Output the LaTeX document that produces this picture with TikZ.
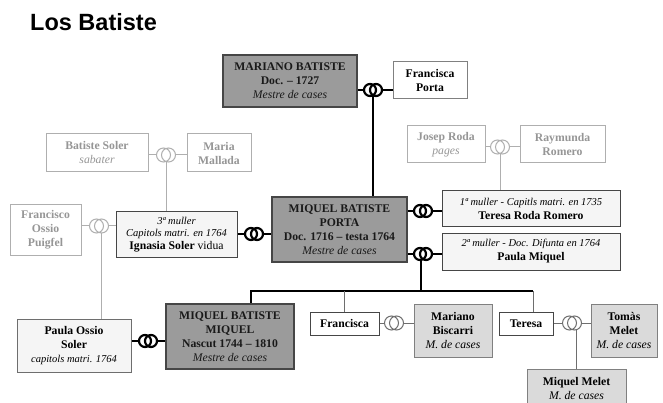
\documentclass[tikz,border=0pt]{standalone}
\usepackage{fontspec}
\setmainfont{Liberation Serif}
\newfontfamily\titlefont{Liberation Sans}
\definecolor{darkfill}{RGB}{155,155,155}
\definecolor{darkborder}{RGB}{70,70,70}
\definecolor{midfill}{RGB}{218,218,218}
\definecolor{palefill}{RGB}{245,245,245}
\definecolor{paleborder}{RGB}{175,175,175}
\definecolor{paletext}{RGB}{150,150,150}
\definecolor{midline}{RGB}{110,110,110}
\newcommand\itl[1]{{\mdseries\itshape #1}}
\newcommand\smit[1]{{\mdseries\itshape\fontsize{10.5}{12.5}\selectfont #1}}
\newcommand\ringthick[1]{%
  \fill[white] ([xshift=-3pt]#1) circle[radius=6pt] ([xshift=3pt]#1) circle[radius=6pt];
  \draw[line width=2.2pt,black] ([xshift=-3pt]#1) circle[radius=6pt] ([xshift=3pt]#1) circle[radius=6pt];}
\newcommand\ringthin[2]{%
  \fill[white] ([xshift=-2.5pt]#1) circle[radius=7pt] ([xshift=2.5pt]#1) circle[radius=7pt];
  \draw[line width=1pt,#2] ([xshift=-2.5pt]#1) circle[radius=7pt] ([xshift=2.5pt]#1) circle[radius=7pt];}
\begin{document}
\begin{tikzpicture}[x=1pt,y=-1pt,
  box/.style={rectangle, align=center, inner sep=1pt,
    font=\fontsize{11.7}{14}\selectfont\bfseries},
  darkbox/.style={box, fill=darkfill, draw=darkborder, line width=1.2pt, text=black!90},
  wifebox/.style={box, fill=palefill, draw=darkborder, line width=1pt},
  whitebox/.style={box, fill=white, draw=darkborder, line width=1pt},
  greybox/.style={box, fill=white, draw=gray, line width=1pt},
  midbox/.style={box, fill=midfill, draw=gray, line width=1pt},
  palebox/.style={box, fill=white, draw=paleborder, line width=1pt, text=paletext},
  thickline/.style={line width=2pt, black},
  paleline/.style={line width=1pt, paleborder},
  midlinestyle/.style={line width=1pt, midline}]
\useasboundingbox (0,0) rectangle (663,403);
\clip (0,0) rectangle (663,403);

\node[anchor=base west, inner sep=0pt, font=\titlefont\bfseries\fontsize{23.5}{28}\selectfont] (title) at (30,30.5) {Los Batiste};

% generation 1
\node[darkbox, minimum width=134pt, minimum height=52pt] (mariano) at (290,81) {MARIANO BATISTE\\Doc. – 1727\\\itl{Mestre de cases}};
\node[greybox, minimum width=74pt, minimum height=37pt] (fporta) at (430,80.5) {Francisca\\Porta};

% ancestors of wives
\node[palebox, minimum width=102pt, minimum height=38pt] (batisteS) at (97,153) {Batiste Soler\\\itl{sabater}};
\node[palebox, minimum width=64pt, minimum height=38pt] (maria) at (219,153) {Maria\\Mallada};
\node[palebox, minimum width=78pt, minimum height=37pt] (josep) at (446,144.5) {Josep Roda\\\itl{pages}};
\node[palebox, minimum width=85pt, minimum height=37pt] (raymunda) at (562.5,144.5) {Raymunda\\Romero};
\node[palebox, minimum width=71pt, minimum height=50pt] (francisco) at (45.5,230) {Francisco\\Ossio\\Puigfel};

% generation 2
\node[darkbox, minimum width=135pt, minimum height=65pt] (porta) at (339.5,229.5) {MIQUEL BATISTE\\PORTA\\Doc. 1716 – testa 1764\\\itl{Mestre de cases}};
\node[wifebox, minimum width=178pt, minimum height=36pt] (teresaRR) at (531,209) {\smit{1ª muller - Capitls matri. en 1735}\\Teresa Roda Romero};
\node[wifebox, minimum width=178pt, minimum height=37pt] (paulaM) at (531,251.5) {\smit{2ª muller - Doc. Difunta en 1764}\\Paula Miquel};
\node[wifebox, minimum width=121pt, minimum height=45pt, font=\fontsize{11.7}{12.8}\selectfont\bfseries] (ignasia) at (176.5,234.5) {\smit{3ª muller}\\\smit{Capitols matri. en 1764}\\Ignasia Soler \mdseries vidua};

% generation 3
\node[wifebox, draw=midline, minimum width=114pt, minimum height=53pt] (paulaO) at (74,345.5) {Paula Ossio\\Soler\\\smit{capitols matri. 1764}};
\node[darkbox, minimum width=128pt, minimum height=65pt] (miquelM) at (230,336.5) {MIQUEL BATISTE\\MIQUEL\\Nascut 1744 – 1810\\\itl{Mestre de cases}};
\node[whitebox, minimum width=69pt, minimum height=23pt] (francisca) at (344.5,323.5) {Francisca};
\node[midbox, minimum width=78pt, minimum height=53pt] (biscarri) at (453,330.5) {Mariano\\Biscarri\\\itl{M. de cases}};
\node[whitebox, minimum width=54pt, minimum height=23pt] (teresa) at (526,323.5) {Teresa};
\node[midbox, minimum width=66pt, minimum height=53pt] (tomas) at (624,330.5) {Tomàs\\Melet\\\itl{M. de cases}};
\node[midbox, minimum width=99pt, minimum height=40pt] (melet) at (576.5,389) {Miquel Melet\\\itl{M. de cases}};

% ring positions
\coordinate (r1) at (373,90);
\coordinate (r2) at (423,211);
\coordinate (r3) at (423,254);
\coordinate (r3v) at (421,254);
\coordinate (r4) at (254,234);
\coordinate (rBS) at (166,155);
\coordinate (rJR) at (500,147);
\coordinate (rFO) at (99,226);
\coordinate (rFOv) at (101,226);
\coordinate (rPO) at (148,341);
\coordinate (rFB) at (394,323);
\coordinate (rTM) at (572,323);
\coordinate (rTMv) at (576,323);
\coordinate (barL) at (251,291);
\coordinate (barR) at (533,291);

% connectors
\draw[thickline] (mariano.east |- r1) -- (fporta.west |- r1);
\draw[thickline] (r1) -- (porta.north -| r1);
\draw[thickline] (porta.east |- r2) -- (teresaRR.west |- r2);
\draw[thickline] (porta.east |- r3) -- (paulaM.west |- r3);
\draw[thickline] (ignasia.east |- r4) -- (porta.west |- r4);
\draw[thickline] (r3v) -- (r3v |- barL);
\draw[thickline] (miquelM.north -| barL) -- (barL) -- (barR);
\draw[thickline] (paulaO.east |- rPO) -- (miquelM.west |- rPO);
\draw[midlinestyle] (francisca.north |- barL) -- (francisca.north);
\draw[midlinestyle] (barR) -- (teresa.north -| barR);
\draw[midlinestyle] (francisca.east |- rFB) -- (biscarri.west |- rFB);
\draw[midlinestyle] (teresa.east |- rTM) -- (tomas.west |- rTM);
\draw[midlinestyle] (rTMv) -- (melet.north -| rTMv);
\draw[paleline] (batisteS.east |- rBS) -- (maria.west |- rBS);
\draw[paleline] (rBS) -- (ignasia.north -| rBS);
\draw[paleline] (josep.east |- rJR) -- (raymunda.west |- rJR);
\draw[paleline] (rJR) -- (teresaRR.north -| rJR);
\draw[paleline] (francisco.east |- rFO) -- (ignasia.west |- rFO);
\draw[paleline] (rFOv) -- (paulaO.north -| rFOv);

% rings
\ringthick{r1}
\ringthick{r2}
\ringthick{r3}
\ringthick{r4}
\ringthick{rPO}
\ringthin{rFB}{midline}
\ringthin{rTM}{midline}
\ringthin{rBS}{paleborder}
\ringthin{rJR}{paleborder}
\ringthin{rFO}{paleborder}
\end{tikzpicture}
\end{document}
